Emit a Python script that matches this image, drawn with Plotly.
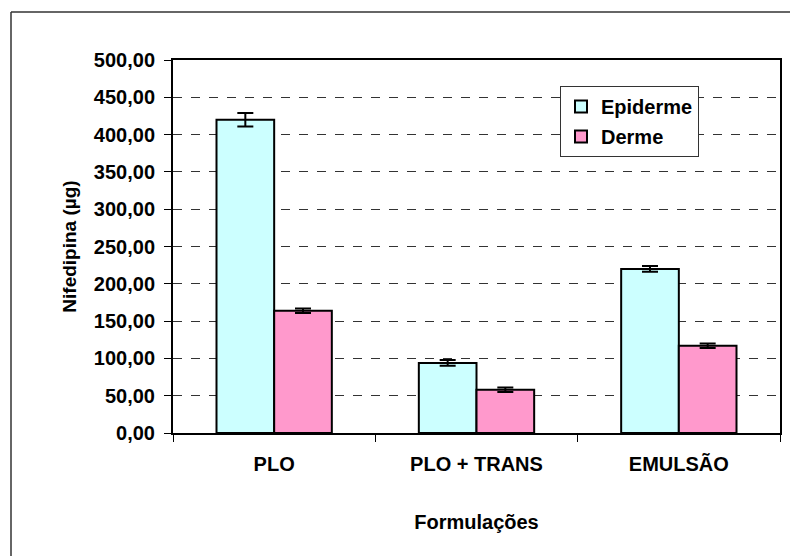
import plotly.graph_objects as go

categories = ["PLO", "PLO + TRANS", "EMULSÃO"]
epiderme = [420, 94, 220]
epiderme_err = [9, 4, 4]
derme = [164, 58, 117]
derme_err = [3, 3, 3]

FONT = "Liberation Sans, Arial, sans-serif"

fig = go.Figure()
fig.add_trace(go.Bar(
    name="<b>Epiderme</b>", x=categories, y=epiderme, legendgroup="a",
    marker=dict(color="#CCFFFF", line=dict(color="black", width=2)),
    error_y=dict(type="data", array=epiderme_err, color="black", thickness=2, width=8),
))
fig.add_trace(go.Bar(
    name="<b>Derme</b>", x=categories, y=derme, legendgroup="b",
    marker=dict(color="#FF99CC", line=dict(color="black", width=2)),
    error_y=dict(type="data", array=derme_err, color="black", thickness=2, width=8),
))

# page is offset by 8px body margin
OFF = 8
W, H = 790, 548
L, T = 173 - OFF, 60 - OFF
R = W - (780 - OFF)
B = H - (433 - OFF)
pw, ph = W - L - R, H - T - B

def px_x(p):
    return (p - OFF - L) / pw

def px_y(p):
    return (H - B - (p - OFF)) / ph

border = dict(color="#333333", width=1.5)
fig.add_shape(type="line", xref="paper", yref="paper",
              x0=px_x(11), x1=px_x(11), y0=px_y(700), y1=px_y(12), line=border)
fig.add_shape(type="line", xref="paper", yref="paper",
              x0=px_x(11), x1=px_x(950), y0=px_y(12), y1=px_y(12), line=border)

fig.update_layout(
    width=W, height=H,
    margin=dict(l=L, r=R, t=T, b=B),
    paper_bgcolor="white", plot_bgcolor="white",
    barmode="group", bargap=0.43, bargroupgap=0,
    separators=",.",
    font=dict(family=FONT, size=19, color="black"),
    showlegend=True,
    legend=dict(
        x=px_x(560), y=px_y(86), xanchor="left", yanchor="top",
        bordercolor="#333333", borderwidth=1, bgcolor="white",
        font=dict(family=FONT, size=20, color="black", weight="bold"),
        itemwidth=30, tracegroupgap=1,
    ),
    xaxis=dict(
        showline=True, linecolor="black", linewidth=2, mirror=True,
        ticks="outside", tickson="boundaries", ticklen=7, tickcolor="black", tickwidth=1,
        ticklabelstandoff=12,
        tickfont=dict(family=FONT, size=20, color="black", weight="bold"),
        title=dict(text="<b>Formulações</b>", standoff=41,
                   font=dict(family=FONT, size=20, color="black")),
    ),
    yaxis=dict(
        range=[0, 500], dtick=50, tickformat=".2f",
        showline=True, linecolor="black", linewidth=2, mirror=True,
        ticks="outside", ticklen=7, tickcolor="black", tickwidth=1,
        ticklabelstandoff=5,
        showgrid=True, gridcolor="#333333", gridwidth=1, griddash="dash",
        zeroline=False,
        tickfont=dict(family=FONT, size=20, color="black", weight="bold"),
        title=dict(text="<b>Nifedipina (µg)</b>", standoff=12,
                   font=dict(family=FONT, size=19, color="black")),
    ),
)

fig.write_html("out.html")
